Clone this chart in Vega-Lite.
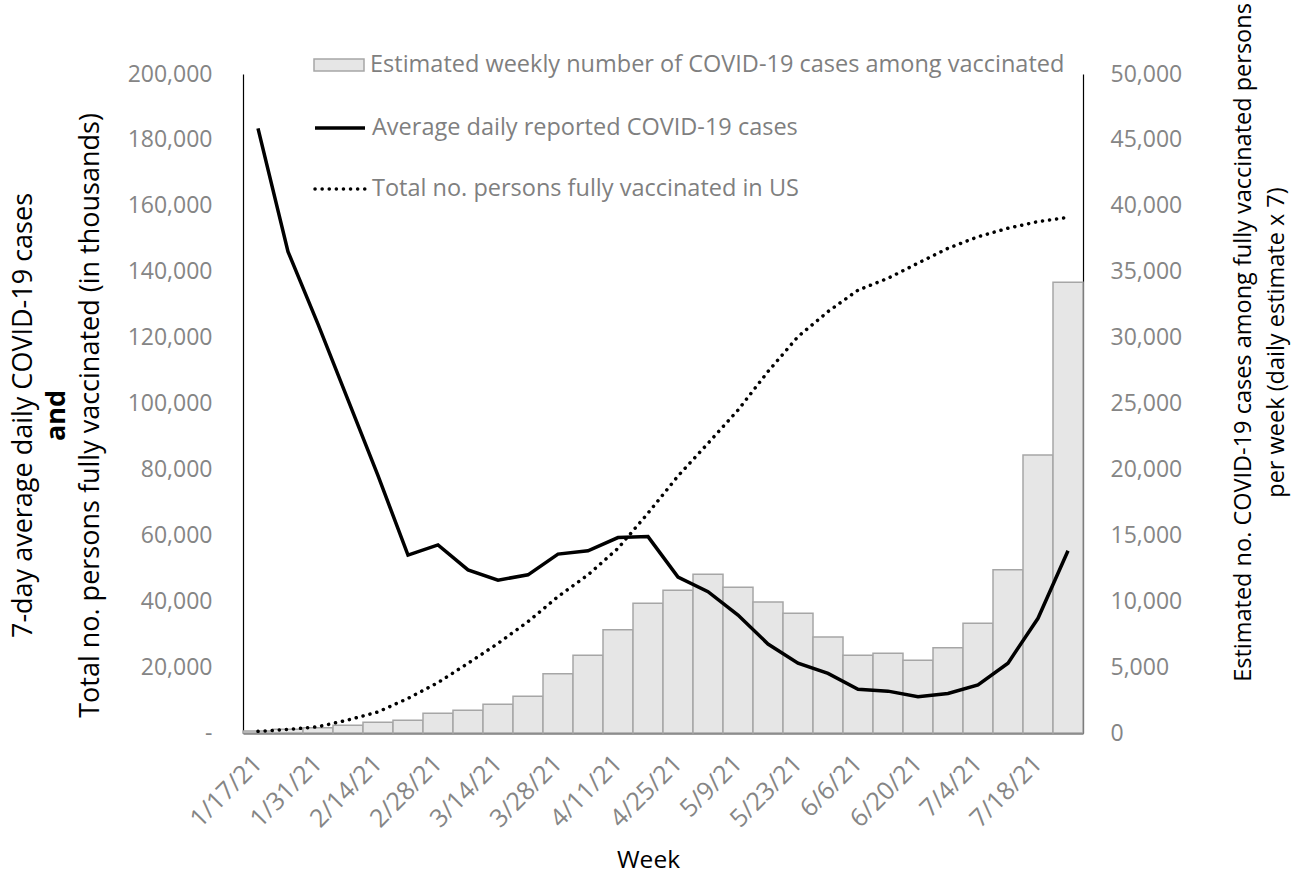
{
  "$schema": "https://vega.github.io/schema/vega-lite/v6.json",
  "autosize": {"type": "none"},
  "padding": {"left": 243, "top": 74, "right": 216, "bottom": 142},
  "width": 840,
  "height": 659,
  "background": "white",
  "config": {
    "view": {"stroke": null},
    "axis": {"grid": false, "ticks": false, "labelFont": "Open Sans", "labelFontSize": 23, "labelColor": "#858585", "titleFont": "Open Sans", "titleColor": "#000000", "titleFontWeight": "normal"},
    "legend": {"padding": 0, "labelFont": "Open Sans", "labelFontSize": 23.5, "labelColor": "#7f7f7f", "labelLimit": 1000, "title": null}
  },
  "data": {
    "values": [
      {"week": "1/17/21", "vax_cases": 150, "daily": 183500, "fully_vax": 500},
      {"week": "1/24/21", "vax_cases": 280, "daily": 146100, "fully_vax": 1100},
      {"week": "1/31/21", "vax_cases": 400, "daily": 124100, "fully_vax": 1900},
      {"week": "2/7/21", "vax_cases": 585, "daily": 101100, "fully_vax": 3950},
      {"week": "2/14/21", "vax_cases": 810, "daily": 78100, "fully_vax": 6400},
      {"week": "2/21/21", "vax_cases": 965, "daily": 54000, "fully_vax": 10500},
      {"week": "2/28/21", "vax_cases": 1495, "daily": 57100, "fully_vax": 15300},
      {"week": "3/7/21", "vax_cases": 1720, "daily": 49500, "fully_vax": 21150},
      {"week": "3/14/21", "vax_cases": 2180, "daily": 46400, "fully_vax": 27200},
      {"week": "3/21/21", "vax_cases": 2785, "daily": 48000, "fully_vax": 33800},
      {"week": "3/28/21", "vax_cases": 4500, "daily": 54300, "fully_vax": 41400},
      {"week": "4/4/21", "vax_cases": 5895, "daily": 55300, "fully_vax": 48000},
      {"week": "4/11/21", "vax_cases": 7840, "daily": 59300, "fully_vax": 56050},
      {"week": "4/18/21", "vax_cases": 9840, "daily": 59600, "fully_vax": 66700},
      {"week": "4/25/21", "vax_cases": 10830, "daily": 47300, "fully_vax": 78000},
      {"week": "5/2/21", "vax_cases": 12040, "daily": 42900, "fully_vax": 87900},
      {"week": "5/9/21", "vax_cases": 11055, "daily": 35800, "fully_vax": 98000},
      {"week": "5/16/21", "vax_cases": 9940, "daily": 27000, "fully_vax": 109700},
      {"week": "5/23/21", "vax_cases": 9080, "daily": 21200, "fully_vax": 120300},
      {"week": "5/30/21", "vax_cases": 7285, "daily": 18100, "fully_vax": 127900},
      {"week": "6/6/21", "vax_cases": 5895, "daily": 13300, "fully_vax": 134400},
      {"week": "6/13/21", "vax_cases": 6045, "daily": 12700, "fully_vax": 138000},
      {"week": "6/20/21", "vax_cases": 5515, "daily": 11000, "fully_vax": 142600},
      {"week": "6/27/21", "vax_cases": 6470, "daily": 12000, "fully_vax": 147100},
      {"week": "7/4/21", "vax_cases": 8320, "daily": 14600, "fully_vax": 150600},
      {"week": "7/11/21", "vax_cases": 12390, "daily": 21200, "fully_vax": 153200},
      {"week": "7/18/21", "vax_cases": 21090, "daily": 34800, "fully_vax": 155200},
      {"week": "7/25/21", "vax_cases": 34200, "daily": 55300, "fully_vax": 156500}
    ]
  },
  "encoding": {
    "x": {
      "field": "week", "type": "ordinal", "sort": null,
      "scale": {"paddingInner": 0, "paddingOuter": 0},
      "axis": {
        "values": ["1/17/21", "1/31/21", "2/14/21", "2/28/21", "3/14/21", "3/28/21", "4/11/21", "4/25/21", "5/9/21", "5/23/21", "6/6/21", "6/20/21", "7/4/21", "7/18/21"],
        "labelAngle": -45, "labelAlign": "right", "labelBaseline": "middle", "labelPadding": 26, "labelFontSize": 25,
        "domainColor": "#404040", "domainWidth": 2,
        "title": "Week", "titleFontSize": 24.5, "titleX": 405, "titleY": 127, "titleBaseline": "middle", "titleAlign": "center"
      }
    }
  },
  "layer": [
    {
      "mark": {"type": "bar", "stroke": "#a6a6a6", "strokeWidth": 1.5},
      "encoding": {
        "y": {
          "field": "vax_cases", "type": "quantitative",
          "scale": {"domain": [0, 50000], "nice": false},
          "axis": {
            "orient": "right", "values": [0, 5000, 10000, 15000, 20000, 25000, 30000, 35000, 40000, 45000, 50000],
            "labelExpr": "format(datum.value, ',')", "labelPadding": 27, "domainColor": "#000000", "domainWidth": 1.2,
            "title": ["Estimated no. COVID-19 cases among fully vaccinated persons", "per week (daily estimate x 7)"],
            "titleFontSize": 23.5, "titleLineHeight": 33, "titleAngle": -90, "titleX": 160, "titleY": 268, "titleBaseline": "middle", "titleAlign": "center"
          }
        },
        "fill": {
          "datum": "Estimated weekly number of COVID-19 cases among vaccinated",
          "scale": {"range": ["#e6e6e6"]},
          "legend": {"orient": "none", "legendX": 70, "legendY": -35, "symbolType": "M-1,-0.24H1V0.24H-1Z", "symbolSize": 2500, "symbolStrokeColor": "#a6a6a6", "symbolStrokeWidth": 1.5, "symbolOpacity": 1, "labelOffset": 5}
        }
      }
    },
    {
      "mark": {"type": "line", "strokeWidth": 3.5},
      "encoding": {
        "y": {
          "field": "daily", "type": "quantitative",
          "scale": {"domain": [0, 200000], "nice": false},
          "axis": {
            "orient": "left", "values": [0, 20000, 40000, 60000, 80000, 100000, 120000, 140000, 160000, 180000, 200000],
            "labelExpr": "datum.value === 0 ? '-\u00a0\u00a0' : format(datum.value, ',')",
            "labelPadding": 31, "domainColor": "#000000", "domainWidth": 1.2,
            "title": ["7-day average daily COVID-19 cases", "Total no. persons fully vaccinated (in thousands)"],
            "titleFontSize": 27, "titleLineHeight": 67, "titleAngle": -90, "titleX": -220, "titleY": 341, "titleBaseline": "middle", "titleAlign": "center"
          }
        },
        "stroke": {
          "datum": "Average daily reported COVID-19 cases",
          "scale": {"range": ["#000000"]},
          "legend": {"orient": "none", "legendX": 70, "legendY": 27, "symbolType": "stroke", "symbolSize": 2500, "symbolStrokeWidth": 3.5, "labelOffset": 5}
        }
      }
    },
    {
      "mark": {"type": "line", "color": "#000000", "strokeWidth": 3.5, "strokeCap": "round"},
      "encoding": {
        "y": {
          "field": "fully_vax", "type": "quantitative",
          "scale": {"domain": [0, 200000], "nice": false},
          "axis": {
            "orient": "left", "labels": false, "domain": false, "ticks": false,
            "title": "and", "titleFontWeight": "bold", "titleFontSize": 27, "titleAngle": -90, "titleX": -187, "titleY": 341, "titleBaseline": "middle", "titleAlign": "center"
          }
        },
        "strokeDash": {
          "datum": "Total no. persons fully vaccinated in US",
          "scale": {"range": [[0.1, 7]]},
          "legend": {"orient": "none", "legendX": 70, "legendY": 88, "symbolType": "stroke", "symbolSize": 2500, "symbolStrokeWidth": 3.5, "symbolStrokeColor": "#000000", "labelOffset": 5,
            "encode": {"symbols": {"update": {"strokeCap": {"value": "round"}}}}}
        }
      }
    }
  ],
  "resolve": {"scale": {"y": "independent"}}
}
